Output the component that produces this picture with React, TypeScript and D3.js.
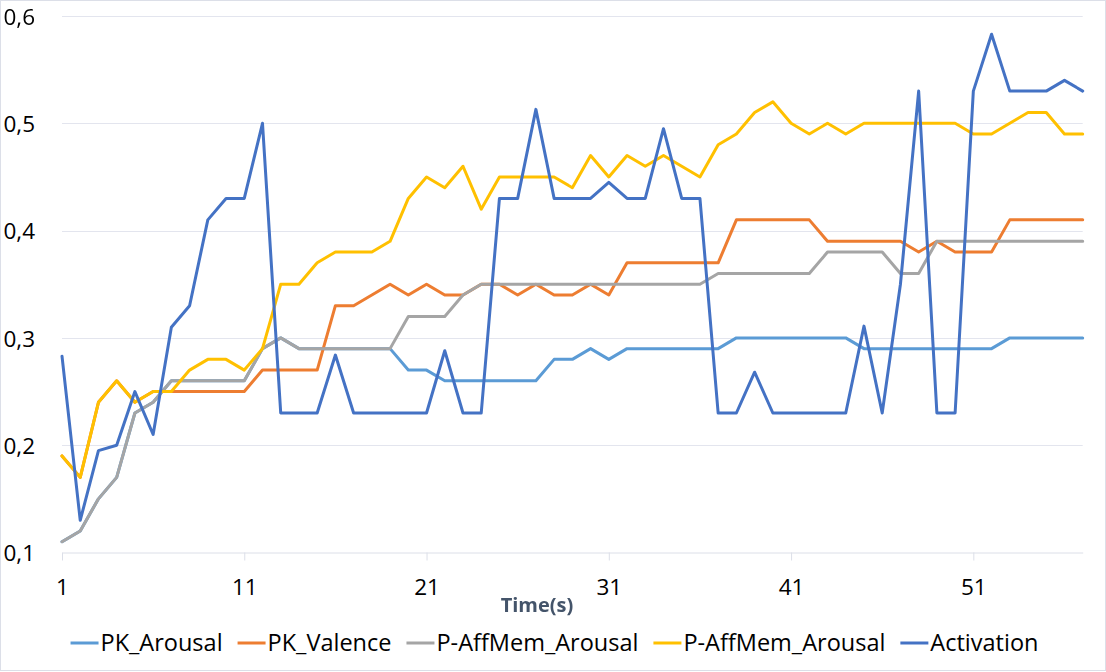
import { useRef, useEffect } from "react";
import * as d3 from "d3";

const times = [
  1, 2, 3, 4, 5, 6, 7, 8, 9, 10, 11, 12, 13, 14, 15, 16, 17, 18, 19, 20,
  21, 22, 23, 24, 25, 26, 27, 28, 29, 30, 31, 32, 33, 34, 35, 36, 37, 38, 39, 40,
  41, 42, 43, 44, 45, 46, 47, 48, 49, 50, 51, 52, 53, 54, 55, 56, 57,
];

const pkArousal = [
  0.11, 0.12, 0.15, 0.17, 0.23, 0.24, 0.26, 0.26, 0.26, 0.26, 0.26, 0.29, 0.3, 0.29, 0.29, 0.29, 0.29, 0.29, 0.29, 0.27,
  0.27, 0.26, 0.26, 0.26, 0.26, 0.26, 0.26, 0.28, 0.28, 0.29, 0.28, 0.29, 0.29, 0.29, 0.29, 0.29, 0.29, 0.3, 0.3, 0.3,
  0.3, 0.3, 0.3, 0.3, 0.29, 0.29, 0.29, 0.29, 0.29, 0.29, 0.29, 0.29, 0.3, 0.3, 0.3, 0.3, 0.3,
];

const pkValence = [
  0.19, 0.17, 0.24, 0.26, 0.24, 0.25, 0.25, 0.25, 0.25, 0.25, 0.25, 0.27, 0.27, 0.27, 0.27, 0.33, 0.33, 0.34, 0.35, 0.34,
  0.35, 0.34, 0.34, 0.35, 0.35, 0.34, 0.35, 0.34, 0.34, 0.35, 0.34, 0.37, 0.37, 0.37, 0.37, 0.37, 0.37, 0.41, 0.41, 0.41,
  0.41, 0.41, 0.39, 0.39, 0.39, 0.39, 0.39, 0.38, 0.39, 0.38, 0.38, 0.38, 0.41, 0.41, 0.41, 0.41, 0.41,
];

const pAffMemArousal = [
  0.11, 0.12, 0.15, 0.17, 0.23, 0.24, 0.26, 0.26, 0.26, 0.26, 0.26, 0.29, 0.3, 0.29, 0.29, 0.29, 0.29, 0.29, 0.29, 0.32,
  0.32, 0.32, 0.34, 0.35, 0.35, 0.35, 0.35, 0.35, 0.35, 0.35, 0.35, 0.35, 0.35, 0.35, 0.35, 0.35, 0.36, 0.36, 0.36, 0.36,
  0.36, 0.36, 0.38, 0.38, 0.38, 0.38, 0.36, 0.36, 0.39, 0.39, 0.39, 0.39, 0.39, 0.39, 0.39, 0.39, 0.39,
];

const pAffMemArousal2 = [
  0.19, 0.17, 0.24, 0.26, 0.24, 0.25, 0.25, 0.27, 0.28, 0.28, 0.27, 0.29, 0.35, 0.35, 0.37, 0.38, 0.38, 0.38, 0.39, 0.43,
  0.45, 0.44, 0.46, 0.42, 0.45, 0.45, 0.45, 0.45, 0.44, 0.47, 0.45, 0.47, 0.46, 0.47, 0.46, 0.45, 0.48, 0.49, 0.51, 0.52,
  0.5, 0.49, 0.5, 0.49, 0.5, 0.5, 0.5, 0.5, 0.5, 0.5, 0.49, 0.49, 0.5, 0.51, 0.51, 0.49, 0.49,
];

const activation = [
  0.283, 0.13, 0.195, 0.2, 0.25, 0.21, 0.31, 0.33, 0.41, 0.43, 0.43, 0.5, 0.23, 0.23, 0.23, 0.284, 0.23, 0.23, 0.23, 0.23,
  0.23, 0.288, 0.23, 0.23, 0.43, 0.43, 0.513, 0.43, 0.43, 0.43, 0.445, 0.43, 0.43, 0.495, 0.43, 0.43, 0.23, 0.23, 0.268, 0.23,
  0.23, 0.23, 0.23, 0.23, 0.311, 0.23, 0.35, 0.53, 0.23, 0.23, 0.53, 0.583, 0.53, 0.53, 0.53, 0.54, 0.53,
];

const seriesNames = ["PK_Arousal", "PK_Valence", "P-AffMem_Arousal", "P-AffMem_Arousal", "Activation"];
const seriesColors = ["#5B9BD5", "#ED7D31", "#A5A5A5", "#FFC000", "#4472C4"];
const seriesValues = [pkArousal, pkValence, pAffMemArousal, pAffMemArousal2, activation];

const xTicks = [1, 11, 21, 31, 41, 51];
const yTicks = [0.1, 0.2, 0.3, 0.4, 0.5, 0.6];

const WIDTH = 1106;
const HEIGHT = 672;
const PLOT = { left: 62, right: 1082.7, top: 16, bottom: 552.5 };
const FONT = "'Open Sans', 'Noto Sans', sans-serif";

export default function App() {
  const svgRef = useRef<SVGSVGElement>(null);

  useEffect(() => {
    if (!svgRef.current) return;
    document.body.style.margin = "0";

    const svg = d3.select(svgRef.current);
    svg.selectAll("*").remove();

    // chart border
    svg.append("rect")
      .attr("x", 0.5)
      .attr("y", 0.5)
      .attr("width", WIDTH - 1)
      .attr("height", HEIGHT - 2)
      .attr("fill", "#fff")
      .attr("stroke", "#DCDFE8");

    const xScale = d3.scaleLinear().domain([1, 57]).range([PLOT.left, PLOT.right]);
    const yScale = d3.scaleLinear().domain([0.1, 0.6]).range([PLOT.bottom, PLOT.top]);

    // gridlines
    svg.append("g")
      .selectAll("line")
      .data(yTicks.slice(1))
      .join("line")
      .attr("x1", PLOT.left)
      .attr("x2", PLOT.right)
      .attr("y1", (d) => Math.round(yScale(d)) + 0.5)
      .attr("y2", (d) => Math.round(yScale(d)) + 0.5)
      .attr("stroke", "#E3E5EE")
      .attr("stroke-width", 1);

    // Y axis labels
    const yAxis = svg.append("g")
      .attr("transform", `translate(${PLOT.left},0)`)
      .call(d3.axisLeft(yScale).tickValues(yTicks).tickSize(0).tickPadding(27).tickFormat((d) => d3.format(".1f")(d as number).replace(".", ",")));
    yAxis.select(".domain").remove();
    yAxis.selectAll("text")
      .attr("dy", "0.36em")
      .attr("fill", "#000")
      .attr("font-size", "22.5px")
      .attr("font-family", FONT);

    // X axis
    const xAxis = svg.append("g")
      .attr("transform", `translate(0,${Math.round(PLOT.bottom) - 0.5})`)
      .call(d3.axisBottom(xScale).tickValues(xTicks).tickSize(8).tickSizeOuter(0).tickFormat((d) => String(d)));
    xAxis.select(".domain").attr("stroke", "#DCDFE8");
    xAxis.selectAll(".tick line").attr("stroke", "#DCDFE8");
    xAxis.selectAll("text")
      .attr("y", 42)
      .attr("dy", null)
      .attr("fill", "#000")
      .attr("font-size", "22.5px")
      .attr("font-family", FONT);

    // X axis title
    svg.append("text")
      .attr("x", 537)
      .attr("y", 611.5)
      .attr("text-anchor", "middle")
      .attr("fill", "#44546A")
      .attr("font-size", "20px")
      .attr("font-weight", "bold")
      .attr("font-family", FONT)
      .text("Time(s)");

    // lines
    const line = d3.line<number>()
      .x((_, i) => xScale(times[i]))
      .y((d) => yScale(d));

    seriesValues.forEach((vals, s) => {
      svg.append("path")
        .datum(vals)
        .attr("d", line)
        .attr("fill", "none")
        .attr("stroke", seriesColors[s])
        .attr("stroke-width", 3)
        .attr("stroke-linejoin", "round")
        .attr("stroke-linecap", "round");
    });

    // legend
    const legend = svg.append("g");
    const lineLen = 28;
    const textGap = 2;
    const itemGap = 15;
    let cursor = 0;
    seriesNames.forEach((name, s) => {
      const item = legend.append("g").attr("transform", `translate(${cursor},0)`);
      item.append("line")
        .attr("x1", 0)
        .attr("x2", lineLen)
        .attr("y1", 643)
        .attr("y2", 643)
        .attr("stroke", seriesColors[s])
        .attr("stroke-width", 3);
      const t = item.append("text")
        .attr("x", lineLen + textGap)
        .attr("y", 651)
        .attr("fill", "#000")
        .attr("font-size", "23.5px")
        .attr("font-family", FONT)
        .text(name);
      const w = (t.node() as SVGTextElement).getComputedTextLength();
      cursor += lineLen + textGap + w + itemGap;
    });
    const total = cursor - itemGap;
    legend.attr("transform", `translate(${554.5 - total / 2},0)`);
  }, []);

  return (
    <div style={{ position: "fixed", left: 0, top: 0 }}>
      <svg ref={svgRef} width={WIDTH} height={HEIGHT} viewBox={`0 0 ${WIDTH} ${HEIGHT}`} />
    </div>
  );
}
